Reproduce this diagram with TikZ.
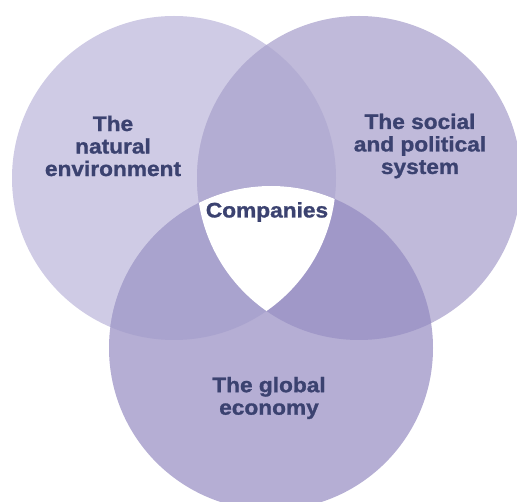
\documentclass[tikz,border=0pt]{standalone}
\usepackage{fontspec}
\setmainfont{Liberation Sans}
\newfontfamily\lblfont[FakeStretch=1.08,FakeBold=1.2]{Liberation Sans Bold}
\definecolor{cA}{HTML}{CFCBE5}
\definecolor{cB}{HTML}{C0BADA}
\definecolor{cC}{HTML}{B5AED4}
\definecolor{cAB}{HTML}{B3ADD3}
\definecolor{cAC}{HTML}{A9A3CE}
\definecolor{cBC}{HTML}{A098C8}
\definecolor{navy}{HTML}{3B4270}
\begin{document}
\begin{tikzpicture}[x=1pt,y=-1pt,
  lbl/.style={align=center,text=navy,inner sep=0pt,
    font=\lblfont\fontsize{21}{22.5}\selectfont}]
\useasboundingbox (0,0) rectangle (517,502);
\def\circA{(174,178) circle[radius=162pt]}
\def\circB{(359,178) circle[radius=162pt]}
\def\circC{(271,348) circle[radius=162pt]}
\begin{scope}
\clip (0,0) rectangle (517,502);
\fill[cA] \circA;
\fill[cB] \circB;
\fill[cC] \circC;
\begin{scope}\clip \circA; \fill[cAB] \circB; \end{scope}
\begin{scope}\clip \circA; \fill[cAC] \circC; \end{scope}
\begin{scope}\clip \circB; \fill[cBC] \circC; \end{scope}
\begin{scope}\clip \circA; \clip \circB; \fill[white] \circC; \end{scope}
\end{scope}
\node[lbl] (nat) at (113,146) {The\\natural\\environment};
\node[lbl] (soc) at (420,146) {The social\\and political\\system};
\node[lbl] (comp) at (267,212) {Companies};
\node[lbl] (eco) at (269,398) {The global\\economy};
\end{tikzpicture}
\end{document}
